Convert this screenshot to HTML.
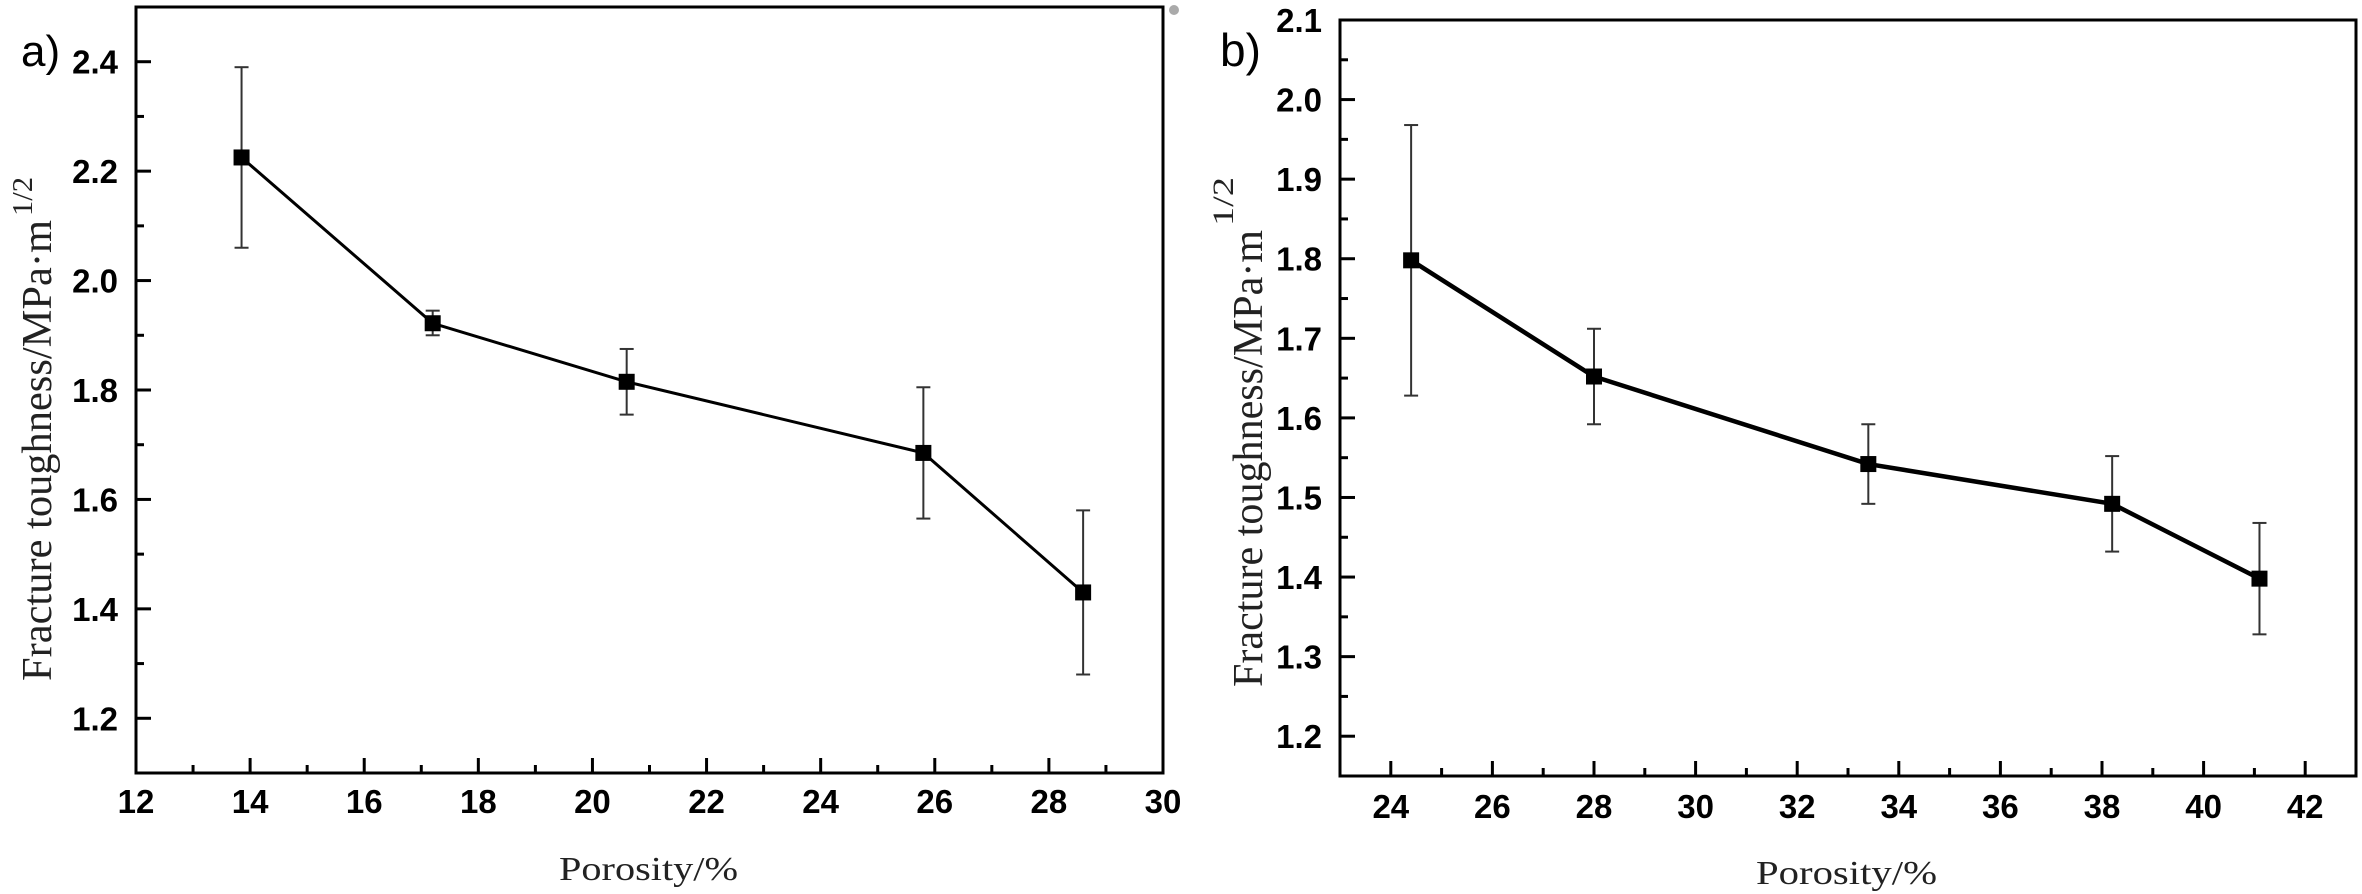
<!DOCTYPE html>
<html><head><meta charset="utf-8"><style>
html,body{margin:0;padding:0;background:#fff;}
svg{display:block;}
.tk{font-family:"Liberation Sans",sans-serif;font-weight:bold;font-size:33px;fill:#000;}
.ttl{font-family:"Liberation Serif",serif;fill:#222;}
</style></head><body>
<svg id="s" xmlns="http://www.w3.org/2000/svg" width="2362" height="894" viewBox="0 0 2362 894"></svg>
<script>
const s=document.getElementById('s');let h='';
function panel(o){
 const X=v=>o.x0+(v-o.xmin)*(o.x1-o.x0)/(o.xmax-o.xmin);
 const Y=v=>o.y1-(v-o.ymin)*(o.y1-o.y0)/(o.ymax-o.ymin);
 h+=`<rect x="${o.x0}" y="${o.y0}" width="${o.x1-o.x0}" height="${o.y1-o.y0}" fill="none" stroke="#000" stroke-width="3"/>`;
 for(let v=o.xt0;v<=o.xt1+1e-9;v+=1){const x=X(v);const maj=Math.round(v)%2==0;
  h+=`<line x1="${x}" y1="${o.y1}" x2="${x}" y2="${o.y1-(maj?15:8)}" stroke="#000" stroke-width="3"/>`;
  if(maj)h+=`<text class="tk" x="${x}" y="${o.xly}" text-anchor="middle">${v}</text>`;}
 for(let i=0;;i++){const v=o.yt0+i*o.ym;if(v>o.ymax+1e-9)break;const y=Y(v);const maj=i%2==0;
  h+=`<line x1="${o.x0}" y1="${y}" x2="${o.x0+(maj?15:8)}" y2="${y}" stroke="#000" stroke-width="3"/>`;
  if(maj)h+=`<text class="tk" x="${o.ylx}" y="${y+12}" text-anchor="end">${v.toFixed(1)}</text>`;}
 let pts=o.d.map(p=>X(p[0])+','+Y(p[1])).join(' ');
 h+=`<polyline points="${pts}" fill="none" stroke="#000" stroke-width="${o.lw}"/>`;
 o.d.forEach(p=>{const x=X(p[0]);const a=Y(p[2]),b=Y(p[3]);
  h+=`<line x1="${x}" y1="${a}" x2="${x}" y2="${b}" stroke="#333" stroke-width="2"/>`;
  h+=`<line x1="${x-7}" y1="${a}" x2="${x+7}" y2="${a}" stroke="#333" stroke-width="2"/>`;
  h+=`<line x1="${x-7}" y1="${b}" x2="${x+7}" y2="${b}" stroke="#333" stroke-width="2"/>`;
  h+=`<rect x="${x-8}" y="${Y(p[1])-8}" width="16" height="16" fill="#000"/>`;});
}
panel({x0:136,x1:1163,y0:7,y1:773,xmin:12,xmax:30,ymin:1.1,ymax:2.5,xt0:12,xt1:30,yt0:1.2,ym:0.1,xly:813,ylx:118,lw:3,
 d:[[13.85,2.225,2.39,2.06],[17.2,1.922,1.945,1.90],[20.6,1.815,1.875,1.755],[25.8,1.685,1.805,1.565],[28.6,1.43,1.58,1.28]]});
panel({x0:1340,x1:2356,y0:20,y1:776,xmin:23,xmax:43,ymin:1.15,ymax:2.1,xt0:24,xt1:42,yt0:1.2,ym:0.05,xly:818,ylx:1322,lw:4.5,
 d:[[24.4,1.798,1.968,1.628],[28,1.652,1.712,1.592],[33.4,1.542,1.592,1.492],[38.2,1.492,1.552,1.432],[41.1,1.398,1.468,1.328]]});
h+=`<text class="ttl" x="559" y="880" font-size="34" textLength="179" lengthAdjust="spacingAndGlyphs">Porosity/%</text>`;
h+=`<text class="ttl" x="1756" y="884" font-size="34" textLength="181" lengthAdjust="spacingAndGlyphs">Porosity/%</text>`;
h+=`<text class="ttl" transform="translate(51,681) rotate(-90)" font-size="42" textLength="461" lengthAdjust="spacingAndGlyphs">Fracture toughness/MPa·m</text>`;
h+=`<text class="ttl" transform="translate(32,216) rotate(-90)" font-size="28" textLength="39" lengthAdjust="spacingAndGlyphs">1/2</text>`;
h+=`<text class="ttl" transform="translate(1262,687) rotate(-90)" font-size="42" textLength="457" lengthAdjust="spacingAndGlyphs">Fracture toughness/MPa·m</text>`;
h+=`<text class="ttl" transform="translate(1233,226) rotate(-90)" font-size="30" textLength="49" lengthAdjust="spacingAndGlyphs">1/2</text>`;
h+=`<text x="21" y="66" font-family="Liberation Sans,sans-serif" font-size="44" fill="#000">a)</text>`;
h+=`<text x="1220" y="66" font-family="Liberation Sans,sans-serif" font-size="46" fill="#000">b)</text>`;
h+=`<circle cx="1174" cy="10" r="5" fill="#aaa"/>`;
s.innerHTML=h;
</script>
</body></html>
